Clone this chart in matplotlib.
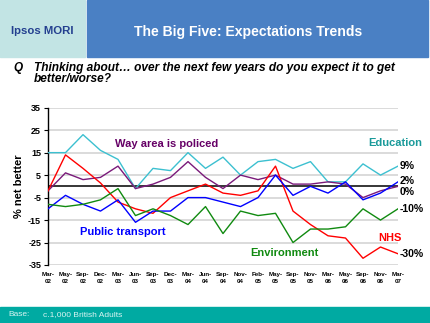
import matplotlib.pyplot as plt
from matplotlib.patches import Rectangle

plt.rcParams["font.family"] = ["Liberation Sans", "DejaVu Sans"]

months = ["Mar-\n02", "May-\n02", "Sep-\n02", "Dec-\n02", "Mar-\n03", "Jun-\n03",
          "Sep-\n03", "Dec-\n03", "Mar-\n04", "Jun-\n04", "Sep-\n04", "Nov-\n04",
          "Feb-\n05", "May-\n05", "Sep-\n05", "Nov-\n05", "Mar-\n06", "May-\n06",
          "Sep-\n06", "Nov-\n06", "Mar-\n07"]

education = [15, 15, 23, 16, 12, -1, 8, 7, 15, 8, 13, 5, 11, 12, 8, 11, 2, 2, 10, 5, 9]
policing = [-2, 6, 3, 4, 9, -1, 1, 4, 11, 4, -1, 5, 3, 5, 1, 1, 2, 1, -5, -2, 0]
nhs = [-2, 14, 8, 1.5, -7, -10, -12, -5, -2, 1, -3, -4, -2, 9, -11, -17, -22, -23, -32, -27, -30]
transport = [-10, -4, -8, -11, -6, -16, -11, -11, -5, -5, -7, -9, -5, 5, -4, 0, -3, 2, -6, -3, 2]
environment = [-8, -9, -8, -6, -1, -13, -10, -13, -17, -9, -21, -11, -13, -12, -25, -19, -19, -18, -10, -15, -10]

end_labels = ["9%", "2%", "0%", "-10%", "-30%"]
end_label_y = [9, 2.5, -2.5, -10, -30]

fig = plt.figure(figsize=(4.3, 3.23), dpi=100)

# header
fig.patches.append(Rectangle((0, 1 - 57 / 323), 85 / 430, 57 / 323,
                             transform=fig.transFigure, color="#c2e4e4", zorder=0))
fig.patches.append(Rectangle((87 / 430, 1 - 57 / 323), 341 / 430, 57 / 323,
                             transform=fig.transFigure, color="#4a80c4", zorder=0))
fig.text(42 / 430, 1 - 31 / 323, "Ipsos MORI", color="#233f8f", fontsize=8.2,
         fontweight="bold", ha="center", va="center")
fig.text(248 / 430, 1 - 32 / 323, "The Big Five: Expectations Trends", color="white",
         fontsize=10.1, fontweight="bold", ha="center", va="center")

# question
fig.text(13 / 430, 1 - 68 / 323, "Q", fontsize=8.5, fontweight="bold",
         fontstyle="italic", va="center")
fig.text(34 / 430, 1 - 73.5 / 323,
         "Thinking about\u2026 over the next few years do you expect it to get\nbetter/worse?",
         fontsize=8.6, fontweight="bold", fontstyle="italic", va="center",
         linespacing=0.85)

# footer
fig.patches.append(Rectangle((0, 0), 1, 16 / 323, transform=fig.transFigure,
                             color="#00aaa2", zorder=0))
fig.text(8 / 430, 8 / 323, "Base:", color="#d8f4f2", fontsize=6, va="center")
fig.text(43 / 430, 8 / 323, "c.1,000 British Adults", color="#d8f4f2",
         fontsize=6, va="center")

ax = fig.add_axes([48 / 430, 1 - 265 / 323, 350 / 430, 157.3 / 323])
x = range(len(months))

for yv in range(-35, 36, 10):
    ax.axhline(yv, color="#d4d4d4", lw=1.2, zorder=1)
ax.axhline(0, color="black", lw=1.1, zorder=2)

ax.plot(x, education, color="#3cc0d0", lw=1.0, zorder=3)
ax.plot(x, policing, color="#7a1a7a", lw=1.0, zorder=3)
ax.plot(x, nhs, color="#ff0000", lw=1.0, zorder=3)
ax.plot(x, transport, color="#0000ff", lw=1.0, zorder=3)
ax.plot(x, environment, color="#108a10", lw=1.0, zorder=3)

ax.set_xlim(0, 20)
ax.set_ylim(-35, 35)
ax.set_yticks(range(-35, 36, 10))
ax.set_yticklabels([str(v) for v in range(-35, 36, 10)], fontsize=6.5,
                   fontweight="bold")
ax.set_xticks(list(x))
ax.set_xticklabels(months, fontsize=4.5, fontweight="bold", linespacing=1.4)
ax.tick_params(axis="x", length=0, pad=5)
ax.tick_params(axis="y", length=3, width=0.8, pad=2)
for s in ["top", "right", "bottom"]:
    ax.spines[s].set_visible(False)
ax.spines["left"].set_linewidth(1.0)
ax.set_ylabel("% net better", fontsize=8, fontweight="bold", labelpad=3)

ax.text(3.85, 19, "Way area is policed", color="#660066", fontsize=8,
        fontweight="bold", va="center", clip_on=False)
ax.text(18.3, 19.2, "Education", color="#1a9a9a", fontsize=8,
        fontweight="bold", va="center", clip_on=False)
ax.text(1.85, -20.3, "Public transport", color="#0000ff", fontsize=8,
        fontweight="bold", va="center", clip_on=False)
ax.text(11.55, -29.8, "Environment", color="#108a10", fontsize=8,
        fontweight="bold", va="center", clip_on=False)
ax.text(18.85, -23, "NHS", color="#ff0000", fontsize=8,
        fontweight="bold", va="center", clip_on=False)

for lab, yv in zip(end_labels, end_label_y):
    ax.text(20.1, yv, lab, fontsize=7.5, fontweight="bold", va="center",
            clip_on=False)

fig.savefig("out.png", dpi=100)
